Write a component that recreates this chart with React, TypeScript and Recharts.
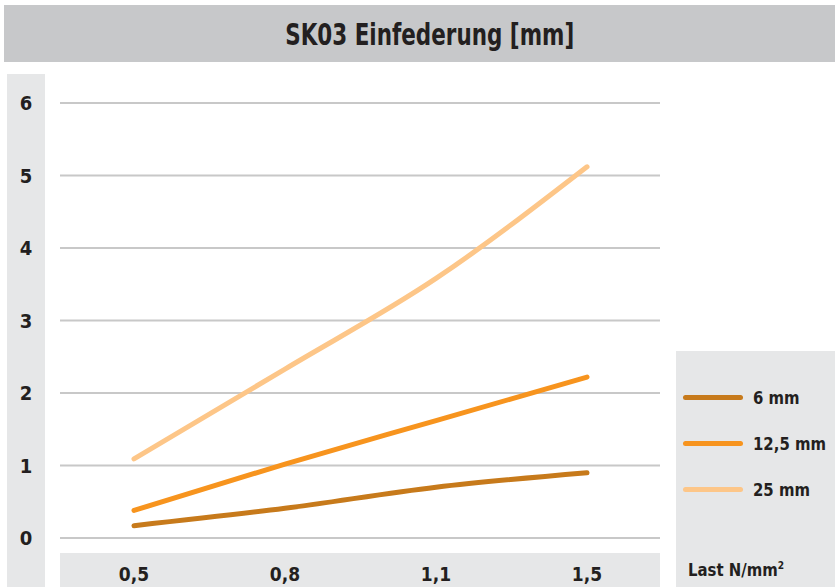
import { LineChart, Line, XAxis, YAxis, CartesianGrid, Legend } from 'recharts';

const loads = ['0,5', '0,8', '1,1', '1,5'];
const deflection6 = [0.17, 0.41, 0.7, 0.9];
const deflection125 = [0.38, 1.02, 1.62, 2.22];
const deflection25 = [1.09, 2.33, 3.58, 5.12];
const yTicks = [0, 1, 2, 3, 4, 5, 6];

const SERIES = [
  { key: 's6', name: '6 mm', color: '#c77a1b', values: deflection6 },
  { key: 's125', name: '12,5 mm', color: '#f7941e', values: deflection125 },
  { key: 's25', name: '25 mm', color: '#fdc688', values: deflection25 },
];

const FONT = "'Liberation Sans Narrow', 'DejaVu Sans Condensed', 'Roboto Condensed', sans-serif";
const TEXT = '#231f20';
const PANEL = '#e6e7e8';

const data = loads.map((load, i) => {
  const row: Record<string, string | number> = { load };
  SERIES.forEach((s) => {
    row[s.key] = s.values[i];
  });
  return row;
});

function YTick({ y, payload }: any) {
  return (
    <text x={26} y={y} dy={7} textAnchor="middle" fontFamily={FONT} fontWeight="bold" fontSize={20} fill={TEXT}>
      {payload.value}
    </text>
  );
}

function XTick({ x, y, payload }: any) {
  return (
    <text x={x} y={y} dy={41} textAnchor="middle" fontFamily={FONT} fontWeight="bold" fontSize={19} fill={TEXT}>
      {payload.value}
    </text>
  );
}

function LegendBox() {
  return (
    <div style={{ fontFamily: FONT }}>
      {SERIES.map((s) => (
        <div key={s.key} style={{ display: 'flex', alignItems: 'center', height: 46 }}>
          <div style={{ width: 60, height: 5, borderRadius: 3, background: s.color }} />
          <span
            style={{
              marginLeft: 10,
              fontSize: 18,
              fontWeight: 'bold',
              color: TEXT,
              display: 'inline-block',
              transform: 'scaleX(0.92)',
              transformOrigin: 'left center',
            }}
          >
            {s.name}
          </span>
        </div>
      ))}
    </div>
  );
}

export default function App() {
  return (
    <div style={{ position: 'absolute', left: 0, top: 0, width: 835, height: 587, background: '#fff', overflow: 'hidden' }}>
      {/* panels behind the chart */}
      <div style={{ position: 'absolute', left: 4, top: 5, width: 831, height: 57, background: '#c7c8ca' }} />
      <div
        style={{
          position: 'absolute',
          left: 4,
          top: 5,
          width: 831,
          height: 57,
          display: 'flex',
          alignItems: 'center',
          justifyContent: 'center',
        }}
      >
        <span
          style={{
            display: 'inline-block',
            fontFamily: FONT,
            fontWeight: 'bold',
            fontSize: 31,
            color: TEXT,
            transform: 'translateX(10px) scaleX(0.77)',
          }}
        >
          SK03 Einfederung [mm]
        </span>
      </div>
      <div style={{ position: 'absolute', left: 7, top: 74, width: 38, height: 513, background: PANEL }} />
      <div style={{ position: 'absolute', left: 60, top: 553, width: 600, height: 34, background: PANEL }} />
      <div style={{ position: 'absolute', left: 676, top: 351, width: 159, height: 236, background: PANEL }} />
      <div
        style={{
          position: 'absolute',
          left: 688,
          top: 559,
          fontFamily: FONT,
          fontWeight: 'bold',
          fontSize: 18,
          color: TEXT,
          transform: 'scaleX(0.92)',
          transformOrigin: 'left center',
        }}
      >
        Last N/mm<sup style={{ fontSize: 11 }}>2</sup>
      </div>

      <div style={{ position: 'absolute', left: 0, top: 0 }}>
        <LineChart width={835} height={587} data={data} margin={{ top: 103, right: 175, bottom: 0, left: 0 }}>
          <CartesianGrid horizontal vertical={false} stroke="#c8c8c8" strokeWidth={2} />
          <XAxis
            dataKey="load"
            height={49}
            axisLine={false}
            tickLine={false}
            tickSize={0}
            padding={{ left: 74, right: 73 }}
            tick={<XTick />}
            interval={0}
          />
          <YAxis
            width={60}
            domain={[0, 6]}
            ticks={yTicks}
            axisLine={false}
            tickLine={false}
            tick={<YTick />}
            interval={0}
          />
          {SERIES.map((s) => (
            <Line
              key={s.key}
              dataKey={s.key}
              name={s.name}
              type="monotone"
              stroke={s.color}
              strokeWidth={5}
              strokeLinecap="round"
              dot={false}
              activeDot={false}
              isAnimationActive={false}
            />
          ))}
          <Legend
            layout="vertical"
            align="center"
            verticalAlign="middle"
            content={<LegendBox />}
            wrapperStyle={{ position: 'absolute', left: 683, top: 374, width: 150 }}
          />
        </LineChart>
      </div>
    </div>
  );
}
